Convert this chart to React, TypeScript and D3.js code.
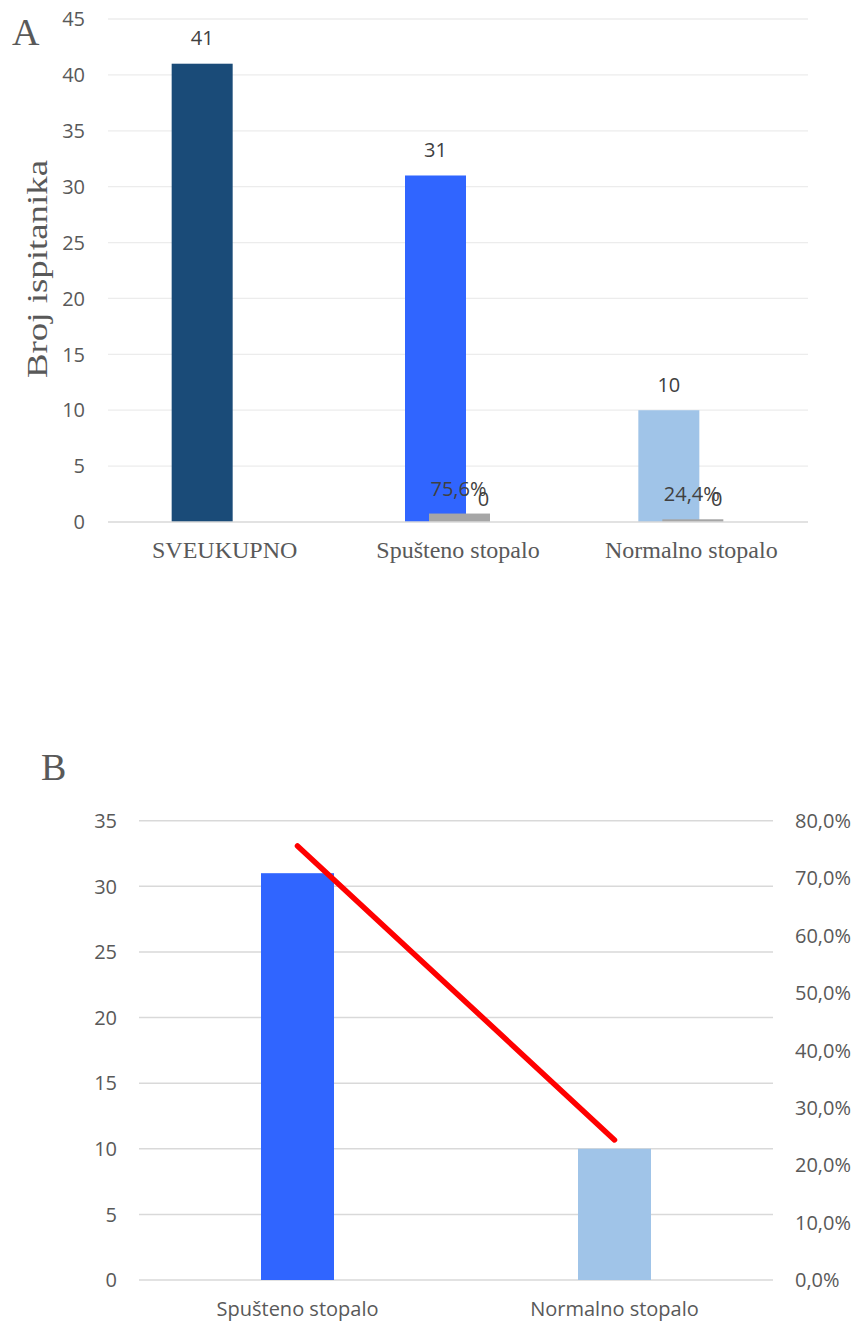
import React from "react";
import * as d3 from "d3";

const categoriesA = ["SVEUKUPNO", "Spušteno stopalo", "Normalno stopalo"];
const countsA = [41, 31, 10];
const pctA: (number | null)[] = [null, 0.756, 0.244];
const zeroA: (number | null)[] = [null, 0, 0];
const ticksA = [0, 5, 10, 15, 20, 25, 30, 35, 40, 45];
const colorsA = ["#1a4b78", "#3065ff", "#a0c4e8"];

const categoriesB = ["Spušteno stopalo", "Normalno stopalo"];
const countsB = [31, 10];
const pctB = [0.756, 0.244];
const ticksB = [0, 5, 10, 15, 20, 25, 30, 35];
const ticksBR = [0, 0.1, 0.2, 0.3, 0.4, 0.5, 0.6, 0.7, 0.8];
const colorsB = ["#3065ff", "#a0c4e8"];

const sans = "'Open Sans', sans-serif";
const serif = "'Liberation Serif', 'Times New Roman', serif";
const fmtPct = (v: number) => d3.format(".1f")(v * 100).replace(".", ",") + "%";

export default function App() {
  // Chart A
  const yA = d3.scaleLinear().domain([0, 45]).range([522, 19]);
  const xA = d3.scaleBand().domain(categoriesA).range([108, 808]).padding(0);
  const bwA = 61;
  const cA = (c: string) => (xA(c) as number) + xA.bandwidth() / 2;

  // Chart B
  const yB = d3.scaleLinear().domain([0, 35]).range([1280, 820.7]);
  const yBR = d3.scaleLinear().domain([0, 0.8]).range([1280, 820.7]);
  const xB = d3.scaleBand().domain(categoriesB).range([139, 773]).padding(0);
  const bwB = 73;
  const cB = (c: string) => (xB(c) as number) + xB.bandwidth() / 2;
  const line = d3
    .line<number>()
    .x((_, i) => cB(categoriesB[i]))
    .y((d) => yBR(d));

  return (
    <div style={{ position: "absolute", left: 0, top: 0 }}>
      <svg width={855} height={1324} style={{ display: "block", background: "#fff" }}>
        {/* ===== Chart A ===== */}
        <text x={12} y={45} fontFamily={serif} fontSize={38} fill="#595959">A</text>
        {ticksA.filter((t) => t > 0).map((t) => (
          <line key={"ga" + t} x1={108} x2={808} y1={yA(t)} y2={yA(t)} stroke="#ececec" strokeWidth={1.3} />
        ))}
        {ticksA.map((t) => (
          <text key={"ta" + t} x={85} y={yA(t)} dy="0.36em" textAnchor="end" fontFamily={sans} fontSize={20} fill="#595959">
            {t}
          </text>
        ))}
        <text
          transform={`translate(47,${(160 + 378) / 2}) rotate(-90)`}
          textAnchor="middle"
          fontFamily={serif}
          fontSize={29}
          fill="#595959"
          textLength={218}
          lengthAdjust="spacingAndGlyphs"
        >
          Broj ispitanika
        </text>
        {categoriesA.map((c, i) => (
          <rect key={"ba" + c} x={cA(c) - 22.5 - bwA / 2} y={yA(countsA[i])} width={bwA} height={yA(0) - yA(countsA[i])} fill={colorsA[i]} />
        ))}
        {categoriesA.map((c, i) =>
          pctA[i] == null ? null : (
            <rect key={"pa" + c} x={cA(c) + 1.5 - bwA / 2} y={yA(pctA[i] as number)} width={bwA} height={yA(0) - yA(pctA[i] as number)} fill="#a6a6a6" />
          )
        )}
        <line x1={108} x2={808} y1={yA(0)} y2={yA(0)} stroke="#d9d9d9" strokeWidth={1.5} />
        {categoriesA.map((c, i) => (
          <text key={"la" + c} x={cA(c) - 22.5} y={yA(countsA[i]) - 18.5} textAnchor="middle" fontFamily={sans} fontSize={20} fill="#404040">
            {countsA[i]}
          </text>
        ))}
        {categoriesA.map((c, i) =>
          pctA[i] == null ? null : (
            <text key={"lpa" + c} x={cA(c) + 0.5} y={yA(pctA[i] as number) - 18} textAnchor="middle" fontFamily={sans} fontSize={20} fill="#404040">
              {fmtPct(pctA[i] as number)}
            </text>
          )
        )}
        {categoriesA.map((c, i) =>
          zeroA[i] == null ? null : (
            <text key={"lza" + c} x={cA(c) + 25.5} y={yA(zeroA[i] as number) - 16.5} textAnchor="middle" fontFamily={sans} fontSize={20} fill="#404040">
              {zeroA[i]}
            </text>
          )
        )}
        {categoriesA.map((c) => (
          <text key={"ca" + c} x={cA(c)} y={558} textAnchor="middle" fontFamily={serif} fontSize={24} fill="#595959">
            {c}
          </text>
        ))}

        {/* ===== Chart B ===== */}
        <text x={41} y={780} fontFamily={serif} fontSize={38} fill="#595959">B</text>
        {ticksB.map((t) => (
          <line key={"gb" + t} x1={139} x2={773} y1={yB(t)} y2={yB(t)} stroke="#d9d9d9" strokeWidth={1.5} />
        ))}
        {ticksB.map((t) => (
          <text key={"tb" + t} x={117} y={yB(t)} dy="0.36em" textAnchor="end" fontFamily={sans} fontSize={20} fill="#595959">
            {t}
          </text>
        ))}
        {ticksBR.map((t) => (
          <text key={"tbr" + t} x={795} y={yBR(t)} dy="0.36em" textAnchor="start" fontFamily={sans} fontSize={20} fill="#595959">
            {fmtPct(t)}
          </text>
        ))}
        {categoriesB.map((c, i) => (
          <rect key={"bb" + c} x={cB(c) - bwB / 2} y={yB(countsB[i])} width={bwB} height={yB(0) - yB(countsB[i])} fill={colorsB[i]} />
        ))}
        <path d={line(pctB) as string} fill="none" stroke="#ff0000" strokeWidth={5.5} strokeLinecap="round" />
        {categoriesB.map((c) => (
          <text key={"cb" + c} x={cB(c)} y={1316} textAnchor="middle" fontFamily={sans} fontSize={20} fill="#595959">
            {c}
          </text>
        ))}
      </svg>
    </div>
  );
}
